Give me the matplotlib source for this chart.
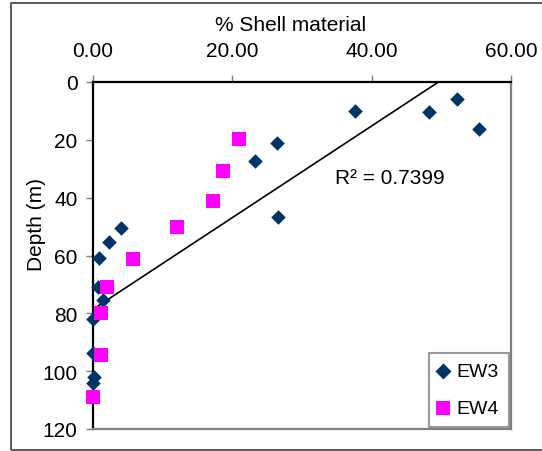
import numpy as np
import matplotlib.pyplot as plt
from matplotlib.patches import Rectangle

plt.rcParams['font.family'] = ['Liberation Sans', 'DejaVu Sans']

# shell content (%) vs depth (m) for the two cores
ew3_shell = [37.6, 48.2, 52.2, 55.4, 26.4, 23.3, 26.6, 4.0, 2.3, 0.9, 0.7, 1.4, 0.0, 0.0, 0.1, 0.0]
ew3_depth = [9.9, 10.5, 5.9, 16.2, 21.2, 27.4, 46.8, 50.4, 55.2, 61.0, 70.9, 75.5, 82.1, 93.8, 102.0, 104.2]
ew4_shell = [21.0, 18.6, 17.2, 12.0, 5.7, 2.0, 1.1, 1.1, 0.0]
ew4_depth = [19.8, 30.8, 41.3, 50.2, 61.2, 70.9, 80.0, 94.4, 109.0]

# linear trendline depth = slope*shell + intercept
trend_slope = -1.585
trend_intercept = 78.6
r_squared = 0.7399

x_ticks = [0, 20, 40, 60]
y_ticks = [0, 20, 40, 60, 80, 100, 120]

W, H = 542, 452
fig = plt.figure(figsize=(W / 100, H / 100), dpi=100)
ax = fig.add_axes([93 / W, 1 - 430 / H, 418 / W, 347 / H])

# outer chart frame (right side runs off the page)
fig.patches.append(Rectangle((11 / W, 1.5 / H), 600 / W, 446.5 / H, transform=fig.transFigure,
                             fill=False, edgecolor='#404040', linewidth=1.2, clip_on=False))

ax.scatter(ew3_shell, ew3_depth, marker='D', s=55, color='#003366', label='EW3',
           zorder=3, linewidths=0, clip_on=False)
ax.scatter(ew4_shell, ew4_depth, marker='s', s=92, color='#FF00FF', label='EW4',
           zorder=3, linewidths=0, clip_on=False)

xs = np.array([0.0, -trend_intercept / trend_slope])
ax.plot(xs, trend_slope * xs + trend_intercept, color='black', lw=1.2, zorder=2)
ax.text(34.7, 34.9, 'R² = %.4f' % r_squared, fontsize=15, va='baseline', ha='left')

ax.set_xlim(0, 60)
ax.set_ylim(120, 0)
ax.xaxis.tick_top()
ax.set_xticks(x_ticks)
ax.set_xticklabels(['%.2f' % v for v in x_ticks])
ax.set_yticks(y_ticks)
ax.tick_params(axis='both', direction='out', length=4.7, width=1, color='#808080', labelsize=15)
ax.tick_params(axis='y', pad=6.5)
ax.tick_params(axis='x', pad=11)

# axis titles
fig.text(291 / W, 1 - 31 / H, '% Shell material', fontsize=15, ha='center', va='baseline')
fig.text(36 / W, 1 - 225 / H, 'Depth (m)', fontsize=15, ha='center', va='center', rotation=90)

ax.spines['left'].set_color('black')
ax.spines['top'].set_color('black')
ax.spines['right'].set_color('#808080')
ax.spines['bottom'].set_color('#808080')
for s in ax.spines.values():
    s.set_linewidth(1.6)

leg = ax.legend(loc='lower right', bbox_to_anchor=(0.995, 0.006), fontsize=14, frameon=True,
                fancybox=False, edgecolor='#808080', borderaxespad=0, handletextpad=0.45,
                labelspacing=1.0, borderpad=0.5, handlelength=0.5, scatterpoints=1,
                markerscale=1.1)
leg.get_frame().set_linewidth(1.5)

fig.savefig('out.png', dpi=100)
